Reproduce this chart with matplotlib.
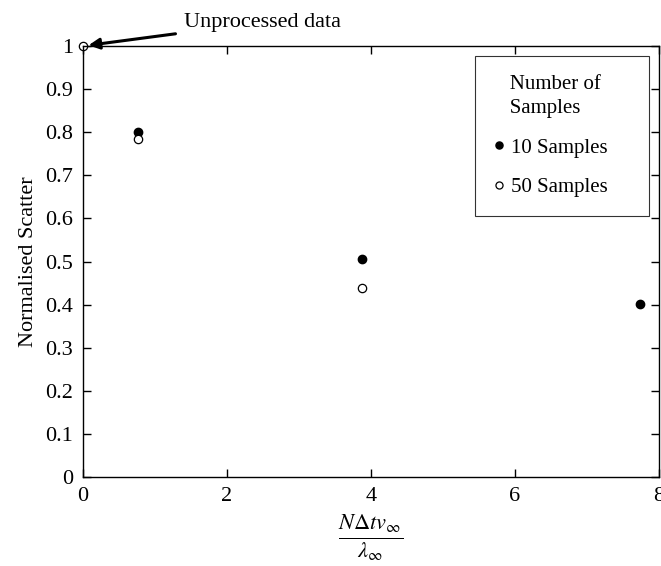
import matplotlib.pyplot as plt

plt.rcParams['font.family'] = ['Liberation Serif', 'DejaVu Serif']
plt.rcParams['mathtext.fontset'] = 'stix'

# data
x_10 = [0.77, 3.87, 7.74]
y_10 = [0.80, 0.506, 0.401]
x_50 = [0.0, 0.77, 3.87]
y_50 = [1.0, 0.785, 0.438]
x_ticks = [0, 2, 4, 6, 8]
y_ticks = [0, 0.1, 0.2, 0.3, 0.4, 0.5, 0.6, 0.7, 0.8, 0.9, 1.0]
y_tick_labels = ['0', '0.1', '0.2', '0.3', '0.4', '0.5', '0.6', '0.7', '0.8', '0.9', '1']

fig = plt.figure(figsize=(6.61, 5.66), dpi=100)
ax = fig.add_axes([0.1256, 0.157, 0.871, 0.7617])

ax.plot(x_10, y_10, 'o', color='black', markersize=6, clip_on=False, label='10 Samples')
ax.plot(x_50, y_50, 'o', markerfacecolor='white', markeredgecolor='black',
        markeredgewidth=0.9, markersize=6, clip_on=False, label='50 Samples')

ax.set_xlim(0, 8)
ax.set_ylim(0, 1)
ax.set_xticks(x_ticks)
ax.set_yticks(y_ticks)
ax.set_yticklabels(y_tick_labels)
ax.tick_params(direction='in', top=True, right=True, labelsize=16, length=6, width=1, pad=7)
for s in ax.spines.values():
    s.set_linewidth(1)

ax.set_ylabel('Normalised Scatter', fontsize=16, labelpad=5)
ax.set_xlabel(r'$\frac{N\Delta t v_\infty}{\lambda_\infty}$', fontsize=23, labelpad=5)

ax.annotate('Unprocessed data', xy=(0.0, 1.0), xytext=(1.4, 1.055),
            fontsize=16, va='center', ha='left', annotation_clip=False,
            arrowprops=dict(arrowstyle='-|>', color='black', lw=2.2, shrinkA=4, shrinkB=4,
                            mutation_scale=16))

# legend box stretched to the reference width
leg = ax.legend(title='   Number of\n   Samples', loc='upper left',
                bbox_to_anchor=(0.681, 0.977, 0.302, 0.0), mode='expand',
                fontsize=15, title_fontsize=15, frameon=True, fancybox=False,
                edgecolor='black', handlelength=0.5, handletextpad=0.3,
                labelspacing=0.95, borderpad=0.9, borderaxespad=0, markerscale=0.85)
leg._legend_box.align = 'left'
leg.get_title().set_linespacing(1.4)
leg.get_frame().set_linewidth(0.8)

plt.savefig('out.png', dpi=100)
